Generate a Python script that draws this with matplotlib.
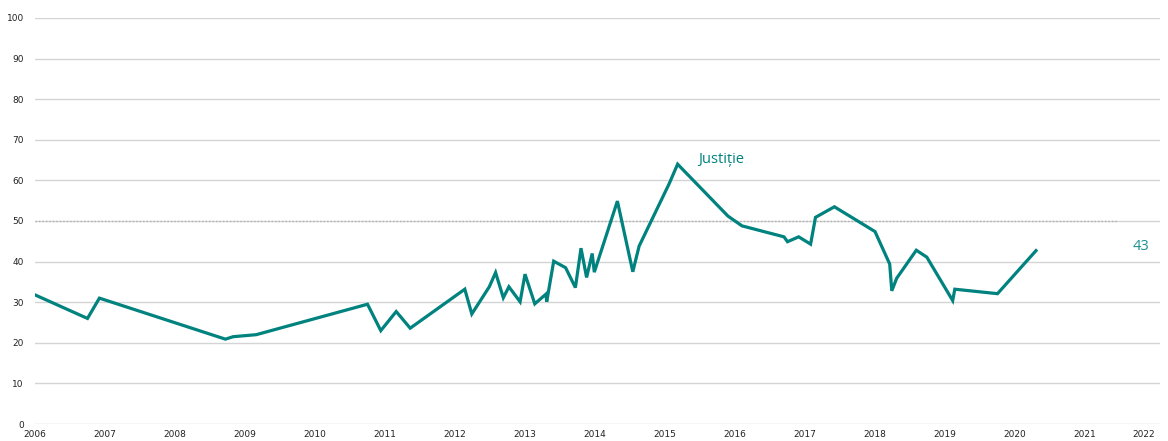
import matplotlib.pyplot as plt
import numpy as np

# Datos (año decimal, valor)
anios = [2006.0, 2006.75, 2006.92, 2008.72, 2008.83, 2009.16, 2010.75, 2010.94,
         2011.16, 2011.36, 2012.14, 2012.24, 2012.49, 2012.58, 2012.69, 2012.77,
         2012.93, 2013.0, 2013.14, 2013.30, 2013.31, 2013.41, 2013.58, 2013.72,
         2013.80, 2013.88, 2013.96, 2013.99, 2014.32, 2014.54, 2014.63, 2015.06,
         2015.18, 2015.90, 2016.10, 2016.70, 2016.75, 2016.91, 2017.08, 2017.15,
         2017.42, 2018.0, 2018.21, 2018.24, 2018.31, 2018.59, 2018.74, 2019.11,
         2019.14, 2019.75, 2020.30]
valores = [31.8, 26.0, 31.0, 20.9, 21.5, 22.0, 29.5, 23.0,
           27.7, 23.6, 33.2, 27.1, 33.8, 37.3, 31.1, 33.8,
           30.1, 36.9, 29.6, 32.0, 30.1, 40.1, 38.5, 33.6,
           43.3, 36.1, 42.0, 37.4, 54.9, 37.5, 43.8, 59.2,
           64.0, 51.2, 48.8, 46.1, 44.9, 46.1, 44.3, 50.9,
           53.5, 47.4, 39.4, 32.8, 35.9, 42.8, 41.1, 30.4,
           33.2, 32.1, 42.7]

etiqueta_serie = "Justiție"
ultimo_valor = "43"
referencia = 50
anios_ticks = list(range(2006, 2023))
valores_ticks = list(range(0, 101, 10))

color = "#00827F"

fig = plt.figure(figsize=(11.68, 4.41), dpi=100)
ax = fig.add_axes([35 / 1168, 1 - 424 / 441, (1160 - 35) / 1168, (424 - 18) / 441])

# Grilla horizontal
for v in valores_ticks:
    ax.axhline(v, color="#D4D4D4", linewidth=1.0, zorder=0)

# Linea de referencia punteada
ax.plot([2006, 2021.46], [referencia, referencia], color="#B0B0B0",
        linestyle=(0, (1, 1.5)), linewidth=1.0, zorder=1)

ax.plot(anios, valores, color=color, linewidth=2.3, zorder=3,
        solid_joinstyle="miter")

ax.text(2015.8, 65.2, etiqueta_serie, color=color, fontsize=10.5,
        family="Open Sans", ha="center", va="center")
ax.text(2021.8, 43.8, ultimo_valor, color="#1A918E", fontsize=10.5,
        family="Open Sans", ha="center", va="center")

ax.set_xlim(2006, 2006 + 1125 / 70)
ax.set_ylim(0, 100)
ax.set_xticks(anios_ticks)
ax.set_yticks(valores_ticks)
ax.tick_params(axis="both", length=0, labelsize=6.5, colors="#222222")
ax.tick_params(axis="x", pad=4)
ax.tick_params(axis="y", pad=8)
for s in ax.spines.values():
    s.set_visible(False)

# la ultima etiqueta queda corrida hacia la izquierda como en el original
etiquetas_x = ax.get_xticklabels()
etiquetas_x[-1].set_horizontalalignment("right")

fig.savefig("out.png", dpi=100)
